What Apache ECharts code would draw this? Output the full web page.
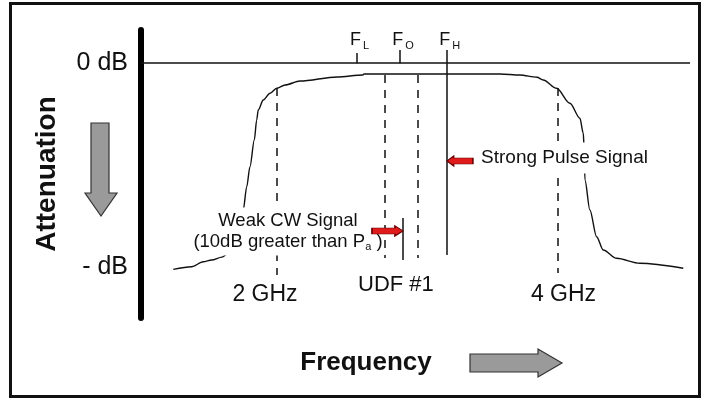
<!DOCTYPE html>
<html>
<head>
<meta charset="utf-8">
<script src="https://cdn.jsdelivr.net/npm/echarts@6.0.0/dist/echarts.min.js"></script>
<style>
  html, body { margin: 0; padding: 0; background: #fff; }
  #chart { width: 704px; height: 399px; }
</style>
</head>
<body>
<div id="chart"></div>
<script>
// frequency in GHz, attenuation in dB (0 dB on top, the "- dB" floor is about -40)
const curveFreq = [1.260, 1.391, 1.474, 1.534, 1.607, 1.678, 1.721, 1.759, 1.784, 1.807, 1.838, 1.855, 1.866, 1.902, 1.950, 1.998, 2.057, 2.164, 2.428, 2.612, 2.620, 3.590, 3.732, 3.854, 3.898, 3.994, 4.089, 4.160, 4.184, 4.189, 4.196, 4.231, 4.279, 4.326, 4.422, 4.588, 4.897];
const curveAtten = [-40.45, -39.94, -38.96, -38.62, -38.05, -36.66, -34.31, -28.81, -24.24, -20.32, -15.08, -11.16, -9.20, -7.23, -5.92, -4.94, -4.29, -3.51, -2.72, -2.33, -2.13, -2.13, -2.33, -2.78, -3.31, -4.94, -7.88, -10.82, -13.77, -16.06, -22.93, -28.81, -34.05, -36.66, -38.29, -39.27, -40.25];

const attenTicks = [0, -40];
const freqTicks = [2, 4];

// F_L, F_O, F_H ticks on the 0 dB line
const markerNames = ['L', 'O', 'H'];
const markerFreq = [2.567, 2.877, 3.210];
const markerTop = [1.99, 2.57, 2.57];

// dashed guides: [freq, top, bottom]
const dashedGuides = [[2.0, -4.88, -41.57], [4.0, -4.88, -41.17], [2.770, -2.33, -38.23], [3.000, -2.33, -38.23]];
// solid signal lines: [freq, top, bottom]
const signalLines = [[3.210, 0, -37.64], [2.896, -30.38, -38.62]];

// red arrows: weak CW signal, strong pulse signal
const signalFreq = [2.788, 3.304];
const signalAtten = [-32.93, -19.2];

const noteFreq = [2.078, 4.050, 2.848];
const noteAtten = [-33.03, -18.61, -43.53];

const FONT = '"Liberation Sans", Arial, sans-serif';
const INK = '#111';

const myChart = echarts.init(document.getElementById('chart'));

const noteLabels = [
  {
    formatter: '{t|Weak CW Signal}\n{t|(10dB greater than P}{s|a}{t| )}',
    backgroundColor: '#fff',
    padding: [3, 0, 3, 0],
    rich: {
      t: { fontSize: 18.5, lineHeight: 21, align: 'center', color: INK, fontFamily: FONT },
      s: { fontSize: 11, lineHeight: 10, verticalAlign: 'bottom', align: 'center', color: INK, fontFamily: FONT }
    }
  },
  { formatter: 'Strong Pulse Signal', fontSize: 19, backgroundColor: '#fff', padding: [6, 3, 6, 3] },
  { formatter: 'UDF #1', fontSize: 22 }
];

const noteData = noteFreq.map((f, i) => ({ value: [f, noteAtten[i]], label: noteLabels[i] }));
markerFreq.forEach((f, i) => {
  noteData.push({
    value: [f, 4.54],
    label: {
      formatter: '{f|F}{s|' + markerNames[i] + '}',
      offset: [3, 0],
      rich: {
        f: { fontSize: 18, lineHeight: 22, color: INK, fontFamily: FONT },
        s: { fontSize: 11, lineHeight: 10, verticalAlign: 'bottom', color: INK, fontFamily: FONT, padding: [0, 0, 0, 2] }
      }
    }
  });
});

const guideLines = [];
markerFreq.forEach((f, i) => guideLines.push([{ coord: [f, markerTop[i]] }, { coord: [f, 0] }]));
signalLines.forEach(([f, a, b]) => guideLines.push([{ coord: [f, a] }, { coord: [f, b] }]));
dashedGuides.forEach(([f, a, b]) => guideLines.push([{ coord: [f, a], lineStyle: { type: [8, 7] } }, { coord: [f, b] }]));

const option = {
  animation: false,
  backgroundColor: '#fff',
  textStyle: { fontFamily: FONT },
  grid: { left: 141, right: 14, top: 30, bottom: 81 },
  xAxis: {
    type: 'value',
    min: 1.03,
    max: 4.945,
    axisLine: { show: false, onZero: false },
    axisTick: { show: false },
    splitLine: { show: false },
    axisLabel: {
      customValues: freqTicks,
      margin: -35,
      color: INK,
      fontSize: 23,
      formatter: v => v === 2 ? '{l|2 GHz}' : '{r|4 GHz}',
      rich: {
        l: { fontSize: 23, color: INK, fontFamily: FONT, padding: [0, 24, 0, 0] },
        r: { fontSize: 23, color: INK, fontFamily: FONT, padding: [0, 0, 0, 12] }
      }
    },
    name: 'Frequency',
    nameLocation: 'middle',
    nameGap: 32,
    nameMoveOverlap: false,
    nameTextStyle: { fontSize: 26, fontWeight: 'bold', color: '#111', padding: [0, 99, 0, 0] }
  },
  yAxis: {
    type: 'value',
    min: -50,
    max: 6.5,
    axisLine: { show: true, onZero: false, lineStyle: { color: '#000', width: 6 } },
    axisTick: { show: false },
    splitLine: { show: false },
    axisLabel: {
      customValues: attenTicks,
      margin: 13,
      fontSize: 25,
      color: INK,
      formatter: v => v === 0 ? '0 dB' : '- dB'
    },
    name: 'Attenuation',
    nameLocation: 'middle',
    nameRotate: 90,
    nameGap: 80,
    nameMoveOverlap: false,
    nameTextStyle: { fontSize: 28, fontWeight: 'bold', color: '#111' }
  },
  series: [
    {
      type: 'line',
      name: 'Filter response',
      data: curveFreq.map((f, i) => [f, curveAtten[i]]),
      symbol: 'none',
      smooth: 0.3,
      smoothMonotone: 'x',
      silent: true,
      z: 2,
      lineStyle: { color: '#111', width: 1.4 },
      markLine: {
        z: 3,
        silent: true,
        symbol: 'none',
        label: { show: false },
        lineStyle: { color: '#111', width: 1.5, type: 'solid' },
        data: [{ yAxis: 0 }].concat(guideLines)
      }
    },
    {
      type: 'scatter',
      name: 'Notes',
      z: 10,
      silent: true,
      symbolSize: 1,
      itemStyle: { color: 'transparent', opacity: 1 },
      data: noteData,
      label: { show: true, position: 'inside', color: INK, fontFamily: FONT, opacity: 1 }
    },
    {
      type: 'scatter',
      name: 'Signals',
      z: 12,
      silent: true,
      data: signalFreq.map((f, i) => [f, signalAtten[i]]),
      symbol: 'path://M0,2L23,2L23,0L31,5L23,10L23,8L0,8Z',
      symbolKeepAspect: false,
      symbolSize: (v, p) => p.dataIndex === 1 ? [26, 10] : [31, 10],
      symbolRotate: (v, p) => p.dataIndex === 1 ? 180 : 0,
      itemStyle: { color: '#e01b1b', borderColor: '#6a0000', borderWidth: 1, opacity: 1 }
    }
  ],
  graphic: [
    {
      type: 'rect', silent: true, z: 100,
      shape: { x: 10.5, y: 3.5, width: 689, height: 393 },
      style: { fill: 'none', stroke: '#111', lineWidth: 3 }
    },
    {
      type: 'polygon', silent: true,
      shape: { points: [[91, 123], [109, 123], [109, 193], [117, 193], [101, 216], [85, 193], [91, 193]] },
      style: { fill: '#9a9a9a', stroke: '#333', lineWidth: 1.2 }
    },
    {
      type: 'polygon', silent: true,
      shape: { points: [[470, 354], [538, 354], [538, 349], [562, 363], [538, 377], [538, 372], [470, 372]] },
      style: { fill: '#9a9a9a', stroke: '#333', lineWidth: 1.2 }
    }
  ]
};

myChart.setOption(option);
</script>
</body>
</html>
